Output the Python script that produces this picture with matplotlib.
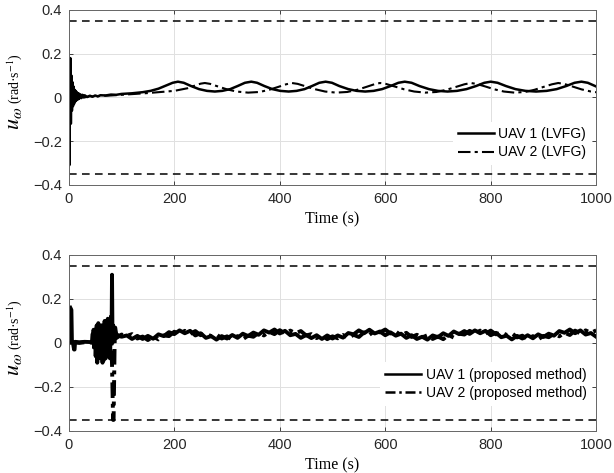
import numpy as np
import matplotlib
matplotlib.use("Agg")
import matplotlib.pyplot as plt

# ---------------- data ----------------
# top panel, LVFG
t_lvfg1 = [0, 1, 2, 3, 4, 5, 6, 7, 8, 9, 10, 11, 12, 13, 14, 15, 16, 17, 18, 19, 20,
           22, 24, 26, 28, 30, 35, 40, 45, 50, 55, 60, 70, 80, 90, 100, 120, 140, 155,
           170, 185, 197, 207, 218, 232, 247, 262, 277, 291, 306, 320, 334, 346, 357,
           371, 386, 401, 417, 432, 447, 461, 475, 487, 499, 513, 530, 546, 562, 578,
           594, 610, 625, 637, 650, 665, 683, 700, 718, 736, 754, 772, 788, 800, 813,
           829, 847, 866, 886, 906, 925, 943, 959, 972, 984, 1000]
u_lvfg1 = [0.0, -0.31, 0.05, 0.18, -0.12, 0.1, -0.06, 0.07, -0.04, 0.05, -0.03, 0.035,
           -0.02, 0.03, -0.015, 0.025, -0.01, 0.02, -0.008, 0.018, -0.005, 0.014, -0.003,
           0.012, 0.0, 0.01, 0.002, 0.008, 0.003, 0.009, 0.005, 0.01, 0.009, 0.013, 0.012,
           0.016, 0.019, 0.024, 0.03, 0.04, 0.055, 0.067, 0.072, 0.067, 0.052, 0.038,
           0.03, 0.027, 0.03, 0.038, 0.052, 0.067, 0.072, 0.067, 0.052, 0.038, 0.03,
           0.027, 0.03, 0.038, 0.052, 0.067, 0.072, 0.067, 0.052, 0.038, 0.03, 0.027,
           0.03, 0.038, 0.052, 0.067, 0.072, 0.067, 0.052, 0.038, 0.03, 0.027, 0.03,
           0.038, 0.052, 0.067, 0.072, 0.067, 0.052, 0.038, 0.03, 0.027, 0.03, 0.038,
           0.052, 0.067, 0.072, 0.067, 0.05]

t_lvfg2 = [0, 1, 2, 3, 4, 5, 6, 7, 8, 10, 12, 14, 16, 18, 20, 25, 30, 40, 50, 60, 80,
           100, 150, 200, 225, 240, 250, 258, 268, 283, 300, 318, 340, 362, 380, 397,
           412, 423, 434, 450, 468, 486, 507, 528, 547, 564, 579, 590, 601, 618, 636,
           655, 676, 697, 716, 734, 750, 762, 773, 790, 807, 825, 845, 865, 883, 900,
           916, 928, 939, 955, 972, 990, 1000]
u_lvfg2 = [0.0, -0.28, 0.02, 0.12, -0.08, 0.06, -0.05, 0.04, -0.03, 0.03, -0.02, 0.02,
           -0.01, 0.015, -0.005, 0.01, 0.0, 0.006, 0.004, 0.007, 0.009, 0.012, 0.02,
           0.03, 0.042, 0.055, 0.063, 0.066, 0.062, 0.05, 0.037, 0.027, 0.022, 0.025,
           0.035, 0.048, 0.06, 0.066, 0.062, 0.05, 0.037, 0.027, 0.022, 0.025, 0.035,
           0.048, 0.06, 0.066, 0.062, 0.05, 0.037, 0.027, 0.022, 0.025, 0.035, 0.048,
           0.06, 0.066, 0.062, 0.05, 0.037, 0.027, 0.022, 0.025, 0.035, 0.048, 0.06,
           0.066, 0.062, 0.05, 0.037, 0.027, 0.024]

# bottom panel, proposed method: start-up part
t_prop1_start = [3, 5, 6, 8, 10, 11, 12, 20, 30, 40, 44, 45, 47, 48, 50, 51, 53, 54, 56,
                 57, 59, 60, 62, 63, 65, 66, 68, 69, 71, 72, 74, 75, 77, 78, 80, 81, 82,
                 83, 84, 86, 88]
u_prop1_start = [0.16, 0.15, 0.005, 0.0, -0.03, -0.03, 0.005, 0.003, 0.005, 0.004, 0.005,
                 0.04, 0.045, -0.02, 0.06, -0.06, 0.08, -0.09, 0.09, -0.02, 0.05, -0.07,
                 0.08, -0.05, 0.06, -0.08, 0.1, -0.03, 0.08, -0.06, 0.11, -0.04, 0.09,
                 -0.07, 0.12, 0.0, 0.31, 0.0, 0.08, 0.03, 0.07]
t_prop2_start = [0, 10, 20, 30, 40, 46, 47, 49, 50, 52, 53, 55, 56, 58, 59, 61, 62, 64,
                 65, 67, 68, 70, 71, 73, 74, 76, 77, 79, 80, 82, 84, 85, 87, 88]
u_prop2_start = [0.0, 0.002, 0.0, 0.003, 0.002, 0.0, 0.06, -0.04, 0.05, -0.06, 0.07,
                 -0.05, 0.04, -0.08, 0.06, -0.05, 0.07, -0.09, 0.05, -0.06, 0.08, -0.07,
                 0.06, -0.05, 0.09, -0.06, 0.07, -0.05, 0.05, -0.1, -0.35, -0.35, 0.0,
                 0.05]

# bottom panel, sampled every 10 s from t = 90 s to 1000 s
t_prop_steady = np.arange(90, 1001, 10)
u_prop1_steady = [0.039, 0.028, 0.034, 0.018, 0.032, 0.018, 0.032, 0.019, 0.039, 0.031,
                  0.049, 0.040, 0.057, 0.044, 0.055, 0.034, 0.044, 0.023, 0.031, 0.015,
                  0.031, 0.020, 0.036, 0.023, 0.042, 0.031, 0.047, 0.037, 0.057, 0.047,
                  0.061, 0.043, 0.055, 0.035, 0.041, 0.023, 0.036, 0.022, 0.035, 0.018,
                  0.034, 0.020, 0.034, 0.024, 0.045, 0.039, 0.057, 0.044, 0.060, 0.043,
                  0.052, 0.035, 0.048, 0.033, 0.042, 0.023, 0.035, 0.018, 0.028, 0.015,
                  0.034, 0.026, 0.044, 0.032, 0.052, 0.040, 0.054, 0.041, 0.057, 0.044,
                  0.055, 0.035, 0.046, 0.026, 0.033, 0.016, 0.032, 0.020, 0.035, 0.021,
                  0.039, 0.027, 0.042, 0.033, 0.054, 0.046, 0.061, 0.044, 0.057, 0.038,
                  0.045, 0.028]
u_prop2_steady = [0.022, 0.038, 0.032, 0.040, 0.020, 0.029, 0.013, 0.029, 0.016, 0.034,
                  0.031, 0.051, 0.041, 0.055, 0.041, 0.054, 0.035, 0.044, 0.030, 0.039,
                  0.020, 0.030, 0.015, 0.031, 0.017, 0.033, 0.028, 0.046, 0.034, 0.050,
                  0.040, 0.058, 0.043, 0.056, 0.044, 0.054, 0.034, 0.040, 0.022, 0.035,
                  0.017, 0.030, 0.021, 0.036, 0.022, 0.037, 0.027, 0.048, 0.037, 0.055,
                  0.048, 0.061, 0.043, 0.052, 0.034, 0.046, 0.027, 0.037, 0.025, 0.035,
                  0.018, 0.029, 0.017, 0.036, 0.024, 0.042, 0.038, 0.055, 0.043, 0.056,
                  0.042, 0.056, 0.039, 0.049, 0.036, 0.045, 0.025, 0.033, 0.016, 0.031,
                  0.016, 0.032, 0.026, 0.042, 0.030, 0.046, 0.036, 0.056, 0.043, 0.057,
                  0.046, 0.057]

u_limit = 0.35
x_ticks = [0, 200, 400, 600, 800, 1000]
y_ticks = [-0.4, -0.2, 0, 0.2, 0.4]
y_ticklabels = ["\u22120.4", "\u22120.2", "0", "0.2", "0.4"]

t_prop1 = np.concatenate([t_prop1_start, t_prop_steady])
u_prop1 = np.concatenate([u_prop1_start, u_prop1_steady])
t_prop2 = np.concatenate([t_prop2_start, t_prop_steady])
u_prop2 = np.concatenate([u_prop2_start, u_prop2_steady])

# ---------------- figure ----------------
plt.rcParams["font.family"] = ["Liberation Sans", "DejaVu Sans"]
plt.rcParams["mathtext.fontset"] = "stix"

fig = plt.figure(figsize=(6.14, 4.73), dpi=100)
ax_top = fig.add_axes([0.112, 0.609, 0.859, 0.370])
ax_bot = fig.add_axes([0.112, 0.089, 0.859, 0.372])

dashdot = (6, 2, 1.5, 2)
serif = ["Liberation Serif", "DejaVu Serif"]


def style_axes(ax):
    ax.set_xlim(0, 1000)
    ax.set_ylim(-0.4, 0.4)
    ax.set_xticks(x_ticks)
    ax.set_yticks(y_ticks)
    ax.set_yticklabels(y_ticklabels)
    ax.grid(True, color="0.88", lw=0.7)
    ax.set_axisbelow(True)
    ax.tick_params(direction="in", length=3, width=0.6, top=True, right=True,
                   labelsize=10.5, colors="0.15", pad=5)
    for s in ax.spines.values():
        s.set_color("0.4")
        s.set_linewidth(0.7)
    ax.set_xlabel("Time (s)", family=serif, fontsize=11.5, labelpad=4)
    ax.text(-0.095, 0.445, r"$u_\omega$", rotation=90, rotation_mode="anchor",
            ha="right", va="baseline", fontsize=16, transform=ax.transAxes,
            family=serif)
    ax.text(-0.095, 0.46, "(rad\u00b7s$^{-1}$)", rotation=90, rotation_mode="anchor",
            ha="left", va="baseline", fontsize=10, transform=ax.transAxes,
            family=serif)
    ax.axhline(u_limit, color="k", ls=(0, (5, 3.5)), lw=1.1)
    ax.axhline(-u_limit, color="k", ls=(0, (5, 3.5)), lw=1.1)


# top panel
style_axes(ax_top)
ax_top.plot(t_lvfg1, u_lvfg1, color="k", lw=1.8, label="UAV 1 (LVFG)")
ax_top.plot(t_lvfg2, u_lvfg2, color="k", lw=1.5, ls=(0, dashdot), label="UAV 2 (LVFG)")
ax_top.legend(loc="lower right", bbox_to_anchor=(1.0, 0.09), frameon=True,
              edgecolor="none", facecolor="white", framealpha=1, fontsize=10,
              handlelength=2.6, handletextpad=0.3, borderaxespad=0.3, labelspacing=0.3)

# bottom panel
style_axes(ax_bot)
ax_bot.plot(t_prop1, u_prop1, color="k", lw=2.8, label="UAV 1 (proposed method)")
ax_bot.plot(t_prop2, u_prop2, color="k", lw=2.8, ls=(0, (4, 1.5, 1, 1.5)),
            label="UAV 2 (proposed method)")
leg = ax_bot.legend(loc="lower right", bbox_to_anchor=(1.0, 0.12), frameon=True,
                    edgecolor="none", facecolor="white", framealpha=1, fontsize=10,
                    handlelength=2.6, handletextpad=0.3, borderaxespad=0.3,
                    labelspacing=0.3)
for h in leg.legend_handles:
    h.set_linewidth(1.8)

fig.savefig("out.png", dpi=100)
